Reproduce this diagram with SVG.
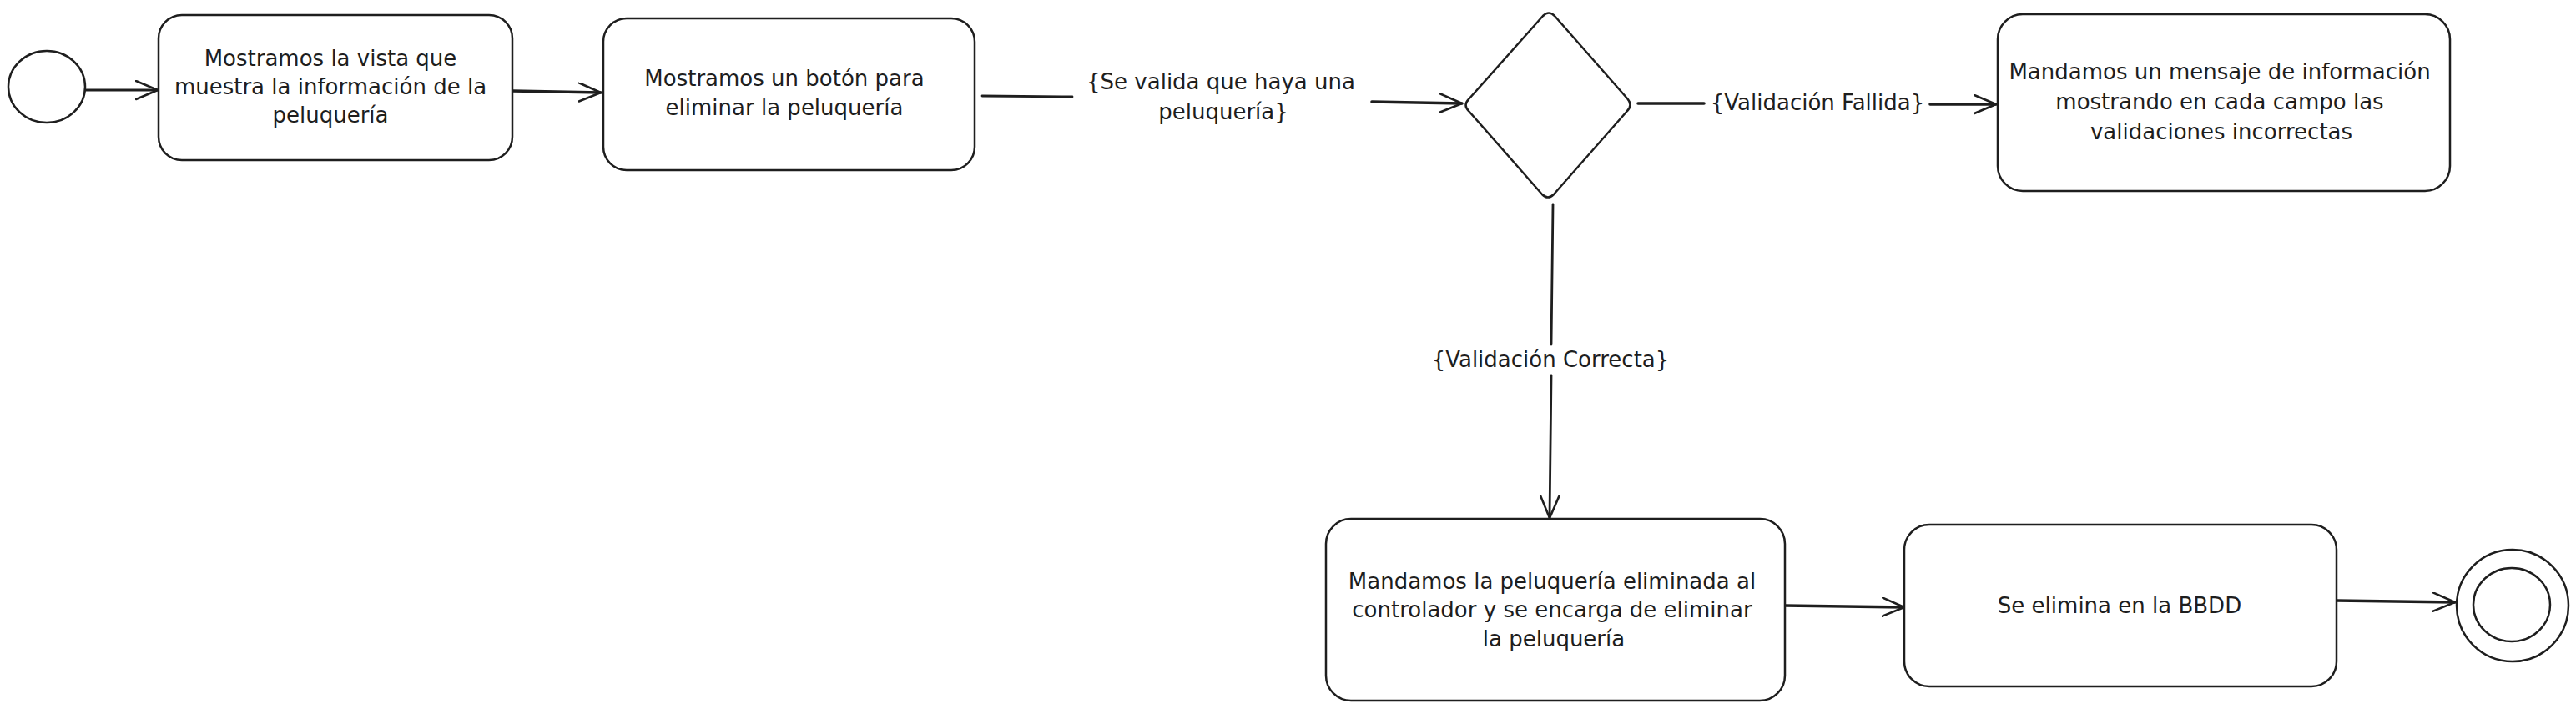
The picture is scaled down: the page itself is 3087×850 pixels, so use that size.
<svg xmlns="http://www.w3.org/2000/svg" width="3087" height="850" viewBox="0 0 3087 850">
<style>
.shape{fill:#ffffff;stroke:#1e1e1e;stroke-width:2.5;}
.conn{fill:none;stroke:#1e1e1e;stroke-width:2.8;stroke-linecap:round;}
.thick{stroke-width:3.6;}
.t{font-family:"DejaVu Sans","Liberation Sans",sans-serif;font-size:26px;fill:#1e1e1e;text-anchor:middle;}
</style>
<defs>
<marker id="arr" markerUnits="userSpaceOnUse" markerWidth="32" markerHeight="28" refX="27" refY="12" orient="auto" viewBox="0 0 32 28">
<path d="M1,1 L27,12 L1,23" fill="none" stroke="#1e1e1e" stroke-width="2.6" stroke-linecap="round" stroke-linejoin="round"/>
</marker>
</defs>
<rect width="3087" height="850" fill="#ffffff"/>
<g id="connectors">
<path class="conn" d="M103,108 L189,108" marker-end="url(#arr)"/>
<path class="conn thick" d="M614,109 L720,111" marker-end="url(#arr)"/>
<path class="conn" d="M1177,115 L1285,116"/>
<path class="conn thick" d="M1644,122 L1752,124" marker-end="url(#arr)"/>
<path class="conn thick" d="M1963,124 L2042,124"/>
<path class="conn thick" d="M2313,125 L2392,125" marker-end="url(#arr)"/>
<path class="conn" d="M1861,245 L1859,413"/>
<path class="conn" d="M1859,450 L1857,621" marker-end="url(#arr)"/>
<path class="conn thick" d="M2139,726 L2282,728" marker-end="url(#arr)"/>
<path class="conn thick" d="M2800,720 L2942,722" marker-end="url(#arr)"/>
<text class="t" x="1463" y="107">{Se valida que haya una</text>
<text class="t" x="1466" y="143">peluquería}</text>
<text class="t" x="2178" y="132">{Validación Fallida}</text>
<text class="t" x="1858" y="440">{Validación Correcta}</text>
</g>
<g id="start">
<ellipse class="shape" cx="56" cy="104" rx="46" ry="43"/>
</g>
<g id="box1">
<rect class="shape" x="190" y="18" width="424" height="174" rx="28" ry="28"/>
<text class="t" x="396" y="79">Mostramos la vista que</text>
<text class="t" x="396" y="113">muestra la información de la</text>
<text class="t" x="396" y="147">peluquería</text>
</g>
<g id="box2">
<rect class="shape" x="723" y="22" width="445" height="182" rx="28" ry="28"/>
<text class="t" x="940" y="103">Mostramos un botón para</text>
<text class="t" x="940" y="138">eliminar la peluquería</text>
</g>
<g id="decision">
<path class="shape" d="M1849,19 L1760,119 Q1753,126 1760,133 L1848,233 Q1855,240 1862,233 L1950,133 Q1957,126 1950,118 L1863,19 Q1856,12 1849,19 Z"/>
</g>
<g id="box3">
<rect class="shape" x="2394" y="17" width="542" height="212" rx="30" ry="30"/>
<text class="t" x="2660" y="95">Mandamos un mensaje de información</text>
<text class="t" x="2660" y="131">mostrando en cada campo las</text>
<text class="t" x="2662" y="167">validaciones incorrectas</text>
</g>
<g id="box4">
<rect class="shape" x="1589" y="622" width="550" height="218" rx="30" ry="30"/>
<text class="t" x="1860" y="706">Mandamos la peluquería eliminada al</text>
<text class="t" x="1860" y="740">controlador y se encarga de eliminar</text>
<text class="t" x="1862" y="775">la peluquería</text>
</g>
<g id="box5">
<rect class="shape" x="2282" y="629" width="518" height="194" rx="30" ry="30"/>
<text class="t" x="2540" y="735">Se elimina en la BBDD</text>
</g>
<g id="end">
<ellipse class="shape" cx="3011" cy="726" rx="67" ry="67"/>
<ellipse class="shape" cx="3010" cy="725" rx="46" ry="44"/>
</g>
</svg>
